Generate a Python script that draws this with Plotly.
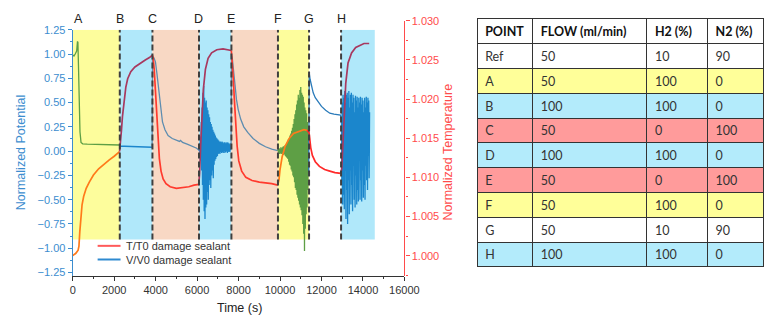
import plotly.graph_objects as go

# ---------------- data ----------------
switch_times = [0, 2270, 3845, 6090, 7655, 9900, 11400, 12945]
end_time = 14570
point_labels = ['A', 'B', 'C', 'D', 'E', 'F', 'G', 'H']
region_kind = ['yellow', 'blue', 'salmon', 'blue', 'salmon', 'yellow', 'none', 'blue']
series_names = ['T/T0 damage sealant', 'V/V0 damage sealant']

# T/T0 (right axis)
t_temp = [0, 150, 260, 300, 340, 390, 450, 530, 650, 800, 1000, 1250, 1500, 1750, 2000, 2260,
          2300, 2350, 2400, 2480, 2560, 2650, 2800, 3000, 3250, 3500, 3700, 3840,
          3880, 3930, 3990, 4050, 4110, 4180, 4260, 4360, 4500, 4700, 5000, 5300, 5600, 5850, 6080,
          6120, 6170, 6230, 6300, 6400, 6530, 6700, 6950, 7250, 7500, 7650,
          7690, 7740, 7800, 7860, 7930, 8010, 8150, 8350, 8650, 9000, 9300, 9600, 9890,
          9950, 10000, 10100, 10250, 10450, 10650, 10900, 11150, 11300, 11400,
          11430, 11480, 11560, 11700, 11900, 12150, 12400, 12650, 12930,
          12980, 13030, 13100, 13170, 13280, 13450, 13650, 13850, 14050, 14300]
temp = [1.0000, 1.0003, 1.0007, 1.0012, 1.0030, 1.0050, 1.0065, 1.0076, 1.0086, 1.0094, 1.0103, 1.0111, 1.0117, 1.0122, 1.0127, 1.0133,
        1.0142, 1.0160, 1.0178, 1.0200, 1.0215, 1.0226, 1.0235, 1.0241, 1.0246, 1.0250, 1.0253, 1.0256,
        1.0253, 1.0238, 1.0210, 1.0180, 1.0150, 1.0124, 1.0108, 1.0098, 1.0092, 1.0088, 1.0086, 1.0087, 1.0088, 1.0090, 1.0091,
        1.0105, 1.0140, 1.0180, 1.0212, 1.0238, 1.0252, 1.0259, 1.0263, 1.0264, 1.0263, 1.0262,
        1.0250, 1.0228, 1.0198, 1.0168, 1.0140, 1.0121, 1.0108, 1.0100, 1.0096, 1.0094, 1.0093, 1.0092, 1.0090,
        1.0097, 1.0110, 1.0126, 1.0140, 1.0150, 1.0156, 1.0159, 1.0161, 1.0160, 1.0157,
        1.0150, 1.0138, 1.0128, 1.0120, 1.0114, 1.0110, 1.0108, 1.0106, 1.0105,
        1.0112, 1.0140, 1.0188, 1.0220, 1.0246, 1.0259, 1.0266, 1.0269, 1.0271, 1.0271]

# V/V0 (left axis) - smooth stretches
pot_t_AC = [0, 60, 120, 190, 230, 250, 275, 310, 350, 400, 480, 700, 1100, 1600, 2000, 2260,
            2280, 2500, 2800, 3100, 3400, 3700, 3830,
            3850, 3920, 3990, 4060, 4150, 4230, 4330, 4450, 4600, 4800, 5000, 5150, 5200, 5300, 5550, 5800, 5980, 6080]
pot_v_AC = [0.99, 0.98, 1.00, 1.03, 1.13, 1.12, 0.90, 0.50, 0.20, 0.09, 0.075, 0.072, 0.071, 0.068, 0.066, 0.063,
            0.050, 0.050, 0.046, 0.045, 0.043, 0.041, 0.040,
            0.97, 0.96, 0.92, 0.80, 0.62, 0.45, 0.30, 0.22, 0.16, 0.13, 0.115, 0.10, 0.11, 0.09, 0.07, 0.05, 0.03, 0.01]
# D: noisy stretch (sampled every 20 s from 6100 s)
pot_D_start, pot_D_step = 6100, 20
pot_D = [0.00, 0.08, -0.05, 0.15, -0.10, 0.30, -0.20, 0.45, -0.35, 0.60, -0.50, 0.67, -0.62, 0.55, -0.70, 0.50,
         -0.58, 0.52, -0.55, 0.45, -0.42, 0.42, -0.50, 0.38, -0.35, 0.35, -0.30, 0.30, -0.38, 0.28, -0.25, 0.25,
         -0.20, 0.22, -0.28, 0.20, -0.14, 0.18, -0.10, 0.16, -0.08, 0.14, -0.06, 0.13, -0.05, 0.12, -0.03, 0.11,
         -0.02, 0.10, -0.03, 0.10, -0.01, 0.09, -0.02, 0.10, -0.01, 0.09, -0.02, 0.08, 0.00, 0.09, -0.02, 0.08,
         -0.01, 0.09, 0.00, 0.08, -0.02, 0.09, -0.01, 0.08, 0.00, 0.07, -0.01, 0.08, 0.01, 0.06]
pot_t_E = [7660, 7700, 7760, 7830, 7900, 7980, 8100, 8250, 8450, 8700, 9000, 9300, 9600, 9890]
pot_v_E = [0.98, 0.95, 0.85, 0.68, 0.53, 0.43, 0.33, 0.25, 0.19, 0.13, 0.08, 0.045, 0.02, 0.005]
# F: noisy stretch (sampled every 20 s from 9900 s)
pot_F_start, pot_F_step = 9900, 20
pot_F = [0.00, 0.03, -0.02, 0.03, -0.03, 0.02, -0.02, 0.04, -0.03, 0.03, -0.02, 0.04, -0.03, 0.05, -0.04, 0.04,
         -0.03, 0.06, -0.05, 0.05, -0.06, 0.08, -0.07, 0.09, -0.08, 0.12, -0.11, 0.13, -0.14, 0.16, -0.15, 0.18,
         -0.19, 0.21, -0.21, 0.24, -0.25, 0.28, -0.27, 0.33, -0.32, 0.38, -0.38, 0.42, -0.40, 0.48, -0.45, 0.52,
         -0.48, 0.58, -0.51, 0.55, -0.55, 0.63, -0.58, 0.66, -0.61, 0.60, -0.66, 0.58, -0.75, 0.56, -0.85, 0.50,
         -1.03, 0.45, -0.80, 0.42, -0.65, 0.39, -0.58, 0.30, -0.40, 0.22, -0.25]
pot_t_G = [11410, 11450, 11520, 11600, 11700, 11850, 12000, 12200, 12400, 12600, 12800, 12920, 12940]
pot_v_G = [0.80, 0.74, 0.66, 0.60, 0.55, 0.50, 0.46, 0.42, 0.39, 0.38, 0.37, 0.37, 0.33]
# H: noisy stretch (sampled every 20 s from 12960 s)
pot_H_start, pot_H_step = 12960, 20
pot_H = [0.30, -0.30, 0.50, -0.55, 0.58, -0.45, 0.55, -0.60, 0.62, -0.20, 0.50, -0.70, 0.58, -0.40, 0.60, -0.75,
         0.55, -0.30, 0.62, -0.65, 0.45, -0.20, 0.58, -0.55, 0.60, -0.35, 0.50, -0.62, 0.58, -0.15, 0.55, -0.50,
         0.40, -0.58, 0.57, -0.25, 0.52, -0.55, 0.56, -0.40, 0.45, -0.52, 0.55, -0.10, 0.50, -0.50, 0.56, -0.30,
         0.48, -0.52, 0.55, -0.20, 0.52, -0.48, 0.40, -0.35, 0.55, -0.50, 0.45, -0.15, 0.56, -0.30, 0.50, -0.40,
         0.55, -0.05, 0.52, -0.28, 0.40]

# table
tbl_points = ['Ref'] + point_labels
tbl_flow = [50, 50, 100, 50, 100, 50, 50, 50, 100]
tbl_h2 = [10, 100, 100, 0, 100, 0, 100, 10, 100]
tbl_n2 = [90, 0, 0, 100, 0, 100, 0, 90, 0]
tbl_headers = ['POINT', 'FLOW (ml/min)', 'H2 (%)', 'N2 (%)']

# ---------------- styles ----------------
shade_colors = {'yellow': '#FDFD9C', 'blue': '#B0E8FA', 'salmon': '#F8D8C4'}
table_colors = {'none': '#FFFFFF', 'yellow': '#FFFF99', 'blue': '#B3EBFB', 'salmon': '#FF9B9B'}
temp_colors = {'none': '#FF2A2A', 'yellow': '#FF7A1A', 'blue': '#A8395F', 'salmon': '#FF3A2E'}
pot_colors = {'none': '#2B7BBA', 'yellow': '#5E9F45', 'blue': '#1B86CC', 'salmon': '#5E8DB0'}
legend_colors = ['#FF5A5A', '#2F8AD0']
AX_BLUE = '#3C8DCF'
AX_RED = '#FF4B4B'
FONT = 'Liberation Sans, Arial, sans-serif'
TFONT = 'Lato, sans-serif'
W, H = 764, 320          # target picture size (positions below are in these pixels)
FIG_W = W + 15           # the viewer renders the figure 15 px narrower than asked


def noisy(start, step, vals):
    return [start + step * i for i in range(len(vals))], list(vals)


tD, vD = noisy(pot_D_start, pot_D_step, pot_D)
tF, vF = noisy(pot_F_start, pot_F_step, pot_F)
tH, vH = noisy(pot_H_start, pot_H_step, pot_H)
t_pot = pot_t_AC + tD + pot_t_E + tF + pot_t_G + tH
v_pot = pot_v_AC + vD + pot_v_E + vF + pot_v_G + vH

bounds = switch_times + [end_time + 100000]


def split(ts, vs):
    segs = []
    for i in range(len(bounds) - 1):
        a, b = bounds[i], bounds[i + 1]
        idx = [k for k, t in enumerate(ts) if a <= t < b]
        if not idx:
            continue
        if idx[0] > 0:
            idx = [idx[0] - 1] + idx
        segs.append((region_kind[i], [ts[k] for k in idx], [vs[k] for k in idx]))
    return segs


fig = go.Figure()

for kind, xs, ys in split(t_pot, v_pot):
    fig.add_trace(go.Scatter(x=xs, y=ys, mode='lines', name=series_names[1], legendgroup='v',
                             showlegend=False, hoverinfo='skip',
                             line=dict(color=pot_colors[kind], width=1.3), xaxis='x', yaxis='y'))
for kind, xs, ys in split(t_temp, temp):
    fig.add_trace(go.Scatter(x=xs, y=ys, mode='lines', name=series_names[0], legendgroup='t',
                             showlegend=False, hoverinfo='skip',
                             line=dict(color=temp_colors[kind], width=1.7), xaxis='x', yaxis='y2'))

# shading and switch lines
shapes = []
region_ends = switch_times[1:] + [end_time]
for i, kind in enumerate(region_kind):
    if kind in shade_colors:
        shapes.append(dict(type='rect', xref='x', yref='y', x0=switch_times[i], x1=region_ends[i],
                           y0=-0.91, y1=1.25, fillcolor=shade_colors[kind], line=dict(width=0),
                           layer='below'))
for t in switch_times[1:]:
    shapes.append(dict(type='line', xref='x', yref='y', x0=t, x1=t, y0=-0.91, y1=1.25,
                       line=dict(color='#3F3F3F', width=2, dash='6px,3px'), layer='above'))

annotations = []
for i, (t, lab) in enumerate(zip(switch_times, point_labels)):
    annotations.append(dict(x=t, y=1 - 13 / H, xref='x', yref='paper', text=lab, showarrow=False,
                            xanchor='center', yanchor='middle',
                            xshift=6 if i == 0 else 0, font=dict(family=FONT, size=12.5, color='#222')))
annotations.append(dict(x=18 / W, y=1 - 150 / H, xref='paper', yref='paper', text='Normalized Potential',
                        xanchor='center', yanchor='middle',
                        textangle=-90, showarrow=False, font=dict(family=FONT, size=12.5, color=AX_BLUE)))
annotations.append(dict(x=447 / W, y=1 - 150 / H, xref='paper', yref='paper', text='Normalized Temperature',
                        xanchor='center', yanchor='middle',
                        textangle=-90, showarrow=False, font=dict(family=FONT, size=12.5, color=AX_RED)))
annotations.append(dict(x=237 / W, y=1 - 310 / H, xref='paper', yref='paper', text='Time (s)',
                        xanchor='center', yanchor='middle',
                        showarrow=False, font=dict(family=FONT, size=12.5, color='#222')))

# legend (drawn in the lower-left corner of the plot)
for k, (name, col) in enumerate(zip(series_names, legend_colors)):
    yy = 1 - (246 + 14 * k) / H
    shapes.append(dict(type='line', xref='paper', yref='paper', x0=95 / W, x1=118 / W, y0=yy, y1=yy,
                       line=dict(color=col, width=2), layer='above'))
    annotations.append(dict(x=121 / W, y=yy, xref='paper', yref='paper', text=name, showarrow=False,
                            xanchor='left', yanchor='middle',
                            font=dict(family=FONT, size=11, color='#333')))

# table
fills = [table_colors['none']] + [table_colors[k] for k in region_kind]
fig.add_trace(go.Table(
    domain=dict(x=[476 / W, 1.0], y=[0.0, 1 - 13 / H]),
    columnwidth=[56, 115, 61, 56],
    header=dict(values=[h.replace(' ', '\u00a0') for h in tbl_headers], fill_color='white',
                line=dict(color='#333', width=1), align='left', height=25,
                font=dict(family=TFONT, size=12.5, color='#111', weight='bold')),
    cells=dict(values=[tbl_points, tbl_flow, tbl_h2, tbl_n2], fill_color=[fills] * 4,
               line=dict(color='#333', width=1), align='left', height=24.8,
               font=dict(family=TFONT, size=12.5, color='#333')),
))

x0d, x1d = 70 / W, 403 / W
ybot = 1 - 277 / H
fig.update_layout(
    width=FIG_W, height=H, autosize=False, margin=dict(l=0, r=0, t=0, b=0, pad=0),
    paper_bgcolor='white', plot_bgcolor='rgba(0,0,0,0)',
    shapes=shapes, annotations=annotations, showlegend=False,
    font=dict(family=FONT),
    xaxis=dict(domain=[x0d, x1d], anchor='y', range=[0, 16000], dtick=2000, tick0=0, tickformat='d',
               showline=True, linecolor='#333', linewidth=1, ticks='outside', ticklen=4,
               tickcolor='#333', showgrid=False, zeroline=False,
               minor=dict(ticks='outside', ticklen=2, dtick=1000, tickcolor='#333'),
               tickfont=dict(family=FONT, size=11, color='#333')),
    yaxis=dict(domain=[ybot, 1 - 24.3 / H], anchor='x', range=[-1.287, 1.2505], dtick=0.25, tick0=-1.25,
               tickformat='.2f', showline=True, linecolor=AX_BLUE, linewidth=1.2, ticks='outside',
               ticklen=4, tickcolor=AX_BLUE, showgrid=False, zeroline=False,
               minor=dict(ticks='outside', ticklen=2, dtick=0.125, tickcolor=AX_BLUE),
               tickfont=dict(family=FONT, size=11, color=AX_BLUE)),
    yaxis2=dict(domain=[ybot, 1 - 15 / H], anchor='x', side='right', range=[0.99739, 1.03002],
                dtick=0.005, tick0=1.0, tickformat='.3f', showline=True, linecolor=AX_RED,
                linewidth=1.2, ticks='outside', ticklen=4, tickcolor=AX_RED, showgrid=False,
                zeroline=False, minor=dict(ticks='outside', ticklen=2, dtick=0.0025, tickcolor=AX_RED),
                tickfont=dict(family=FONT, size=11, color=AX_RED)),
)

page_fix = ("document.documentElement.style.overflow='hidden';"
            "document.body.style.margin='0';document.body.style.overflow='hidden';")
fig.write_html('out.html', config={'displayModeBar': False, 'responsive': False},
               post_script=page_fix)
